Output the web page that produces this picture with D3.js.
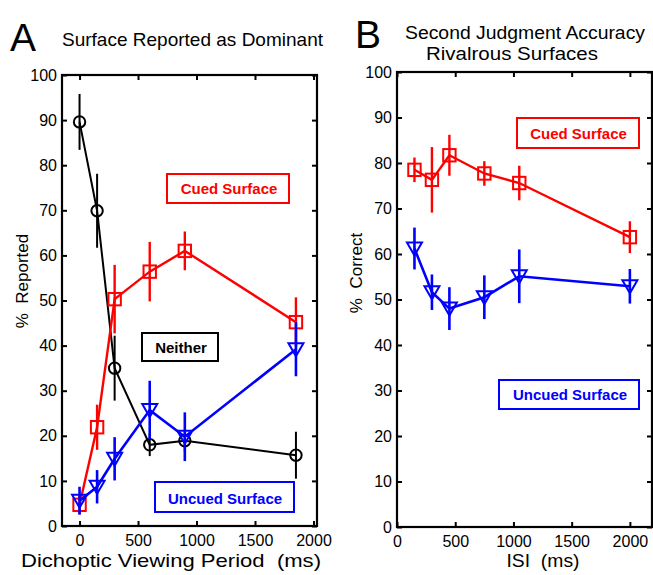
<!DOCTYPE html>
<html><head><meta charset="utf-8">
<script src="https://cdn.jsdelivr.net/npm/d3@7"></script>
<style>body{margin:0;background:#fff}svg{display:block;font-family:"Liberation Sans",Arial,sans-serif}text{white-space:pre}</style>
</head><body>
<script>
// Panel A data
const aX = [0, 150, 300, 600, 900, 1850];
const aNeither = [89.6, 69.9, 35.0, 18.0, 18.9, 15.7];
const aNeitherErr = [6.2, 8.2, 7.2, 2.5, 2.5, 5.2];
const aCued = [4.7, 21.9, 50.3, 56.4, 61.0, 45.2];
const aCuedErr = [2.0, 5.0, 7.6, 6.6, 4.3, 5.5];
const aUncued = [5.6, 8.7, 14.9, 25.7, 19.8, 39.2];
const aUncuedErr = [3.1, 3.7, 4.8, 6.5, 5.4, 6.0];
// Panel B data
const bX = [150, 300, 450, 750, 1050, 2000];
const bCued = [78.5, 76.3, 81.7, 77.7, 75.6, 63.7];
const bCuedErr = [2.7, 7.2, 4.5, 2.7, 3.8, 3.5];
const bUncued = [61.2, 51.6, 48.0, 50.5, 55.1, 52.9];
const bUncuedErr = [4.6, 3.9, 4.7, 4.8, 5.9, 3.8];
const yTicks = [0,10,20,30,40,50,60,70,80,90,100];
const xTicks = [0,500,1000,1500,2000];

const W = 653, H = 575;
const svg = d3.select("body").append("svg").attr("width", W).attr("height", H);
const RED = "#ff0000", BLUE = "#0000ff", BLACK = "#000000";

function panel(cfg) {
  const x = d3.scaleLinear().domain(cfg.xdom).range([cfg.l, cfg.r]);
  const y = d3.scaleLinear().domain([0,100]).range([cfg.b, cfg.t]);
  const g = svg.append("g");
  const fmt = d3.format("d");
  const ax = [
    [d3.axisBottom(x).tickValues(xTicks).tickSize(-5).tickPadding(9).tickFormat(fmt), cfg.b],
    [d3.axisTop(x).tickValues(xTicks).tickSize(-5).tickFormat(""), cfg.t],
  ];
  ax.forEach(([a, ty]) => {
    const gg = g.append("g").attr("transform", `translate(0,${ty})`).call(a.tickSizeOuter(0));
    gg.select(".domain").remove();
    gg.selectAll("line").attr("stroke", "#000").attr("stroke-width", 2);
    gg.selectAll("text").attr("font-size", 16).attr("font-family", "Liberation Sans, Arial, sans-serif").attr("fill", "#000");
  });
  const ayl = g.append("g").attr("transform", `translate(${cfg.l},0)`)
    .call(d3.axisLeft(y).tickValues(yTicks).tickSize(-5).tickSizeOuter(0).tickPadding(5));
  const ayr = g.append("g").attr("transform", `translate(${cfg.r},0)`)
    .call(d3.axisRight(y).tickValues(yTicks).tickSize(-5).tickSizeOuter(0).tickFormat(""));
  [ayl, ayr].forEach(gg => {
    gg.select(".domain").remove();
    gg.selectAll("line").attr("stroke", "#000").attr("stroke-width", 2);
    gg.selectAll("text").attr("font-size", 16).attr("font-family", "Liberation Sans, Arial, sans-serif").attr("fill", "#000");
  });
  g.append("rect").attr("x", cfg.l).attr("y", cfg.t).attr("width", cfg.r - cfg.l).attr("height", cfg.b - cfg.t)
    .attr("fill", "none").attr("stroke", "#000").attr("stroke-width", 2.2);

  cfg.series.forEach(s => {
    const pts = cfg.xs.map((xv, i) => ({x: x(xv), y: y(s.v[i]), lo: y(s.v[i] - s.e[i]), hi: y(s.v[i] + s.e[i])}));
    const sg = g.append("g");
    sg.append("path").attr("d", d3.line().x(d => d.x).y(d => d.y)(pts))
      .attr("fill", "none").attr("stroke", s.c).attr("stroke-width", s.lw);
    sg.selectAll("line.eb").data(pts).join("line").attr("class", "eb")
      .attr("x1", d => d.x).attr("x2", d => d.x).attr("y1", d => d.lo).attr("y2", d => d.hi)
      .attr("stroke", s.c).attr("stroke-width", s.lw);
    if (s.m === "o") {
      sg.selectAll("circle").data(pts).join("circle").attr("cx", d => d.x).attr("cy", d => d.y).attr("r", 5.7)
        .attr("fill", "none").attr("stroke", s.c).attr("stroke-width", 2);
    } else if (s.m === "s") {
      sg.selectAll("rect").data(pts).join("rect").attr("x", d => d.x - 6.2).attr("y", d => d.y - 6.2)
        .attr("width", 12.4).attr("height", 12.4).attr("fill", "none").attr("stroke", s.c).attr("stroke-width", 2);
    } else {
      sg.selectAll("path.tri").data(pts).join("path").attr("class", "tri")
        .attr("d", d => `M${d.x-7.5},${d.y-6}L${d.x+7.5},${d.y-6}L${d.x},${d.y+7}Z`)
        .attr("fill", "none").attr("stroke", s.c).attr("stroke-width", 2);
    }
  });
  cfg.boxes.forEach(bx => {
    g.append("rect").attr("x", bx.x0).attr("y", bx.y0).attr("width", bx.x1 - bx.x0).attr("height", bx.y1 - bx.y0)
      .attr("fill", "#fff").attr("stroke", bx.c).attr("stroke-width", 2);
    g.append("text").attr("x", bx.tx).attr("y", bx.ty).attr("text-anchor", "middle")
      .attr("font-size", 15).attr("font-weight", "bold").attr("fill", bx.c).text(bx.t);
  });
  return {x, y};
}

panel({
  l: 62, r: 317, t: 75, b: 526, xdom: [-150, 2030], xs: aX,
  series: [
    {v: aNeither, e: aNeitherErr, c: BLACK, m: "o", lw: 2},
    {v: aCued, e: aCuedErr, c: RED, m: "s", lw: 2.4},
    {v: aUncued, e: aUncuedErr, c: BLUE, m: "v", lw: 2.6},
  ],
  boxes: [
    {x0: 167, x1: 289, y0: 174, y1: 203, c: RED, t: "Cued Surface", tx: 229, ty: 194},
    {x0: 142, x1: 218, y0: 333, y1: 361, c: BLACK, t: "Neither", tx: 181, ty: 353},
    {x0: 155, x1: 294, y0: 482, y1: 512, c: BLUE, t: "Uncued Surface", tx: 225, ty: 504},
  ]
});
panel({
  l: 397, r: 652, t: 72, b: 527, xdom: [0, 2190], xs: bX,
  series: [
    {v: bCued, e: bCuedErr, c: RED, m: "s", lw: 2.4},
    {v: bUncued, e: bUncuedErr, c: BLUE, m: "v", lw: 2.6},
  ],
  boxes: [
    {x0: 517, x1: 639, y0: 118, y1: 148, c: RED, t: "Cued Surface", tx: 578.5, ty: 139},
    {x0: 499, x1: 639, y0: 380, y1: 409, c: BLUE, t: "Uncued Surface", tx: 570, ty: 400},
  ]
});

function txt(x, y, s, size, opts = {}) {
  const t = svg.append("text").attr("x", x).attr("y", y).attr("font-size", size).attr("fill", "#000").text(s);
  if (opts.anchor) t.attr("text-anchor", opts.anchor);
  if (opts.len) t.attr("textLength", opts.len).attr("lengthAdjust", "spacingAndGlyphs");
  if (opts.rot) t.attr("transform", `rotate(-90,${x},${y})`);
  return t;
}
txt(10, 51, "A", 39);
txt(355, 48, "B", 39);
txt(62, 46, "Surface Reported as Dominant", 18.5, {len: 261});
txt(525, 39, "Second Judgment Accuracy", 17.5, {anchor: "middle", len: 240});
txt(512, 60, "Rivalrous Surfaces", 17.5, {anchor: "middle", len: 172});
txt(171, 567, "Dichoptic Viewing Period  (ms)", 19, {anchor: "middle", len: 300});
txt(543, 567, "ISI  (ms)", 19, {anchor: "middle", len: 73});
txt(28, 281, "%  Reported", 17, {anchor: "middle", rot: true});
txt(362, 273, "%  Correct", 17, {anchor: "middle", rot: true});
</script>
</body></html>
